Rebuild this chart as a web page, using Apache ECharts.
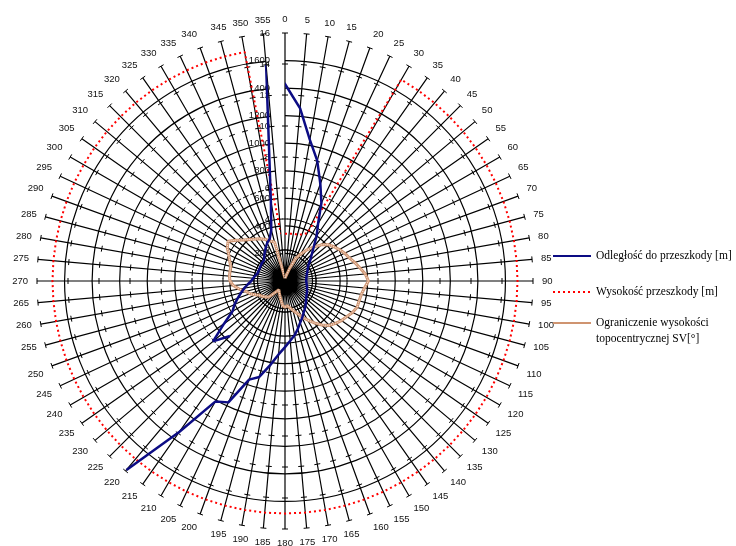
<!DOCTYPE html>
<html><head><meta charset="utf-8">
<script src="https://cdn.jsdelivr.net/npm/echarts@6/dist/echarts.min.js"></script>
<style>html,body{margin:0;padding:0;background:#fff}#c{width:736px;height:546px}</style>
</head><body><div id="c"></div>
<script>
const categories = ['0','5','10','15','20','25','30','35','40','45','50','55','60','65','70','75','80','85',
  '90','95','100','105','110','115','120','125','130','135','140','145','150','155','160','165','170','175',
  '180','185','190','195','200','205','210','215','220','225','230','235','240','245','250','255','260','265',
  '270','275','280','285','290','295','300','305','310','315','320','325','330','335','340','345','350','355'];

// Odległość do przeszkody [m] (primary radial axis)
const distance = [1430,1258,1040,904,750,625,480,400,325,275,240,210,192,180,170,163,158,155,
  154,156,160,165,170,176,182,190,200,215,232,250,268,295,322,360,400,435,
  480,535,620,721,762,972,1009,1335,1790,565,682,540,440,405,365,330,300,270,
  245,232,220,208,205,205,207,210,213,215,235,255,280,305,325,385,590,1573];

// Wysokość przeszkody [m] (secondary radial axis)
const obstacleHeight = [3.05,3.05,3.1,3.1,3.2,3.4,15,15,15,15,15,15,15,15,15,15,15,15,
  15,15,15,15,15,15,15,15,15,15,15,15,15,15,15,15,15,15,
  15,15,15,15,15,15,15,15,15,15,15,15,15,15,15,15,15,15,
  15,15,15,15,15,15,15,15,15,15,15,15,15,15,15,15,15,3.1];

// Ograniczenie wysokości topocentrycznej SV[°] (secondary radial axis)
const elevationLimit = [0.18,0.22,0.29,0.44,0.85,1.6,2.0,2.45,2.85,3.3,3.65,3.85,4.05,4.25,4.4,4.65,4.9,5.2,
  5.38,5.15,5.0,4.95,4.95,4.8,4.6,4.45,4.25,4.05,3.7,3.3,2.9,2.55,2.2,1.95,1.75,1.6,
  1.7,1.6,1.35,1.15,1.06,0.86,0.77,0.69,0.64,1.45,1.6,1.75,1.85,2.1,2.4,2.6,3.0,3.35,
  3.55,3.6,3.6,3.62,3.8,4.0,4.3,4.48,4.1,3.75,3.5,3.3,3.15,2.95,2.75,2.6,0.47,0.26];

const primaryMax = 1800, primaryStep = 200;
const secondaryMax = 16, secondaryStep = 2;
const secondaryTicks = [2,4,6,8,10,12,14,16];
const seriesNames = ['Odległość do przeszkody [m]', 'Wysokość przeszkody [m]', 'Ograniczenie wysokości\ntopocentrycznej SV[°]'];

// blue line: gap between 220 and 225 (starts at 225, wraps through 0 to 220)
const startIdx = categories.indexOf('225');
const blueData = [];
for (let k = 0; k < categories.length; k++) {
  const i = (startIdx + k) % categories.length;
  blueData.push([distance[i], categories[i]]);
}
const closed = arr => categories.map((c, i) => [arr[i], c]).concat([[arr[0], categories[0]]]);

const tickData = [];
categories.forEach(c => secondaryTicks.forEach(t => tickData.push([t, c])));

const C = [285, 281], R = 248;
const gridColors = [];
for (let v = 0; v <= primaryMax; v += primaryStep) gridColors.push(v === 0 || v === primaryMax ? 'rgba(0,0,0,0)' : '#000');

const chart = echarts.init(document.getElementById('c'), null, {renderer: 'canvas'});
const lblFont = {fontFamily: 'Liberation Sans, Arial', fontSize: 9.5, color: '#111'};
const legText = {fontFamily: 'Liberation Serif', fontSize: 11.5, color: '#000', lineHeight: 16};
const legBase = {orient: 'vertical', left: 552, padding: 0, itemWidth: 38, itemHeight: 14, itemStyle: {opacity: 0}};
chart.setOption({
  backgroundColor: '#fff',
  animation: false,
  polar: [{center: C, radius: R}, {center: C, radius: R}],
  angleAxis: [
    {polarIndex: 0, type: 'category', data: categories, startAngle: 90, boundaryGap: false,
     axisLine: {show: false}, axisTick: {show: false},
     axisLabel: Object.assign({interval: 0, margin: 9}, lblFont),
     splitLine: {show: true, interval: 0, lineStyle: {color: '#000', width: 1.2}}},
    {polarIndex: 1, type: 'category', data: categories, startAngle: 90, boundaryGap: false,
     axisLine: {show: false}, axisTick: {show: false}, axisLabel: {show: false}, splitLine: {show: false}}
  ],
  radiusAxis: [
    {polarIndex: 0, type: 'value', min: 0, max: primaryMax, interval: primaryStep,
     axisLine: {show: false}, axisTick: {show: false},
     axisLabel: Object.assign({margin: 15, formatter: v => (v === 0 || v === primaryMax) ? '' : String(v)}, lblFont),
     splitLine: {show: true, lineStyle: {color: gridColors, width: 1.2}}},
    {polarIndex: 1, type: 'value', min: 0, max: secondaryMax, interval: secondaryStep,
     axisLine: {show: false}, axisTick: {show: false}, splitLine: {show: false},
     axisLabel: Object.assign({margin: 15, formatter: v => v === 0 ? '' : String(v)}, lblFont)}
  ],
  legend: [
    Object.assign({data: [seriesNames[0]], top: 248, textStyle: legText}, legBase),
    Object.assign({data: [seriesNames[1]], top: 284, textStyle: legText}, legBase),
    Object.assign({data: [seriesNames[2]], top: 299, textStyle: legText, formatter: n => '\n' + n}, legBase)
  ],
  series: [
    {type: 'custom', coordinateSystem: 'polar', polarIndex: 1, silent: true, z: 1, data: tickData,
     renderItem: function (params, api) {
       const p = api.coord([api.value(0), api.value(1)]);
       const cs = params.coordSys;
       let dx = p[0] - cs.cx, dy = p[1] - cs.cy;
       const L = Math.hypot(dx, dy) || 1; dx /= L; dy /= L;
       const h = 3;
       return {type: 'line', shape: {x1: p[0] - dy * h, y1: p[1] + dx * h, x2: p[0] + dy * h, y2: p[1] - dx * h},
               style: {stroke: '#000', lineWidth: 1}};
     }},
    {name: seriesNames[2], type: 'line', coordinateSystem: 'polar', polarIndex: 1, data: closed(elevationLimit), symbol: 'none', z: 3,
     lineStyle: {color: '#cf9470', width: 3}, itemStyle: {color: '#cf9470'}},
    {name: seriesNames[2], type: 'line', coordinateSystem: 'polar', polarIndex: 1, data: closed(elevationLimit), symbol: 'none', z: 4,
     lineStyle: {color: '#fff4ee', width: 1, type: [1, 1]}, itemStyle: {color: '#cf9470'}},
    {name: seriesNames[1], type: 'line', coordinateSystem: 'polar', polarIndex: 1, data: closed(obstacleHeight), symbol: 'none', z: 5,
     lineStyle: {color: '#ff0000', width: 2, type: [2, 3]}, itemStyle: {color: '#ff0000'}},
    {name: seriesNames[0], type: 'line', coordinateSystem: 'polar', polarIndex: 0, data: blueData, symbol: 'none', z: 6,
     lineStyle: {color: '#0c0c84', width: 2.5}, itemStyle: {color: '#0c0c84'}}
  ]
});
</script></body></html>
